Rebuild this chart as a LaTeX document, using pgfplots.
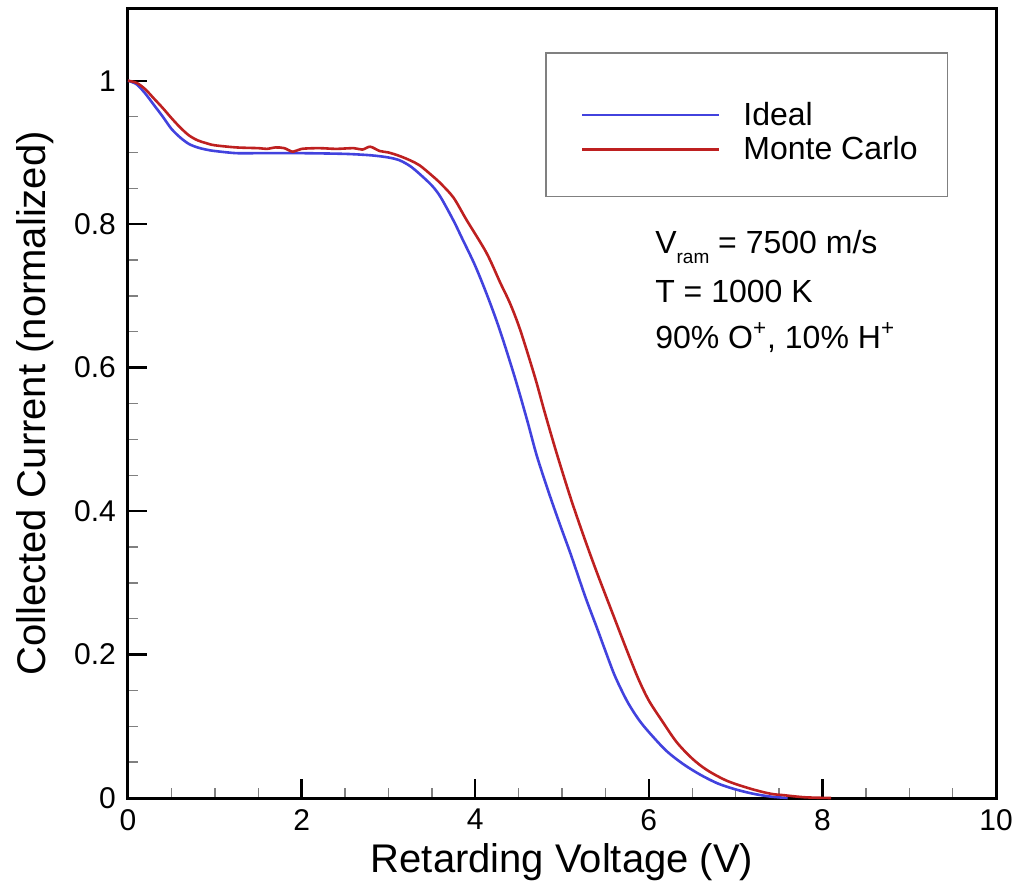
\documentclass[border=0pt]{standalone}
\usepackage{pgfplots}
\pgfplotsset{compat=1.18}
\usepackage{fontspec}
\setmainfont{Liberation Sans}
\definecolor{idealblue}{RGB}{66,66,222}
\definecolor{mcred}{RGB}{190,32,32}
\pgfplotsset{
  normimg/.style={legend image code/.code={\draw[##1,line width=1.3pt] (0pt,0pt) -- (68.5pt,0pt); \path (-4.5pt,0pt) (78pt,0pt);}},
  tallimg/.style={legend image code/.code={\draw[##1,line width=1.3pt] (0pt,0pt) -- (68.5pt,0pt); \path (-4.5pt,0pt) (78pt,15.5pt);}},
}
\begin{document}
\begin{tikzpicture}
\begin{axis}[
  name=ax,
  scale only axis,
  width=434pt, height=394.5pt,
  xmin=0, xmax=10, ymin=0, ymax=1.1,
  xtick={0,2,4,6,8,10},
  ytick={0,0.2,0.4,0.6,0.8,1},
  yticklabels={0,0.2,0.4,0.6,0.8,1},
  minor x tick num=3,
  minor y tick num=3,
  tick align=inside,
  xtick pos=bottom, ytick pos=left,
  major tick length=9.5pt,
  minor tick length=5pt,
  every major tick/.style={black, line width=1.2pt},
  every minor tick/.style={gray, line width=0.7pt},
  axis line style={line width=1.5pt},
  /pgf/number format/assume math mode=true,
  ticklabel style={font=\fontsize{15}{17}\selectfont},
  xticklabel style={yshift=-2pt},
  yticklabel style={xshift=-2.5pt},
  label style={font=\fontsize{20}{24}\selectfont},
  xlabel={Retarding Voltage (V)},
  ylabel={Collected Current (normalized)},
  xlabel style={at={(axis description cs:0.5,-0.081)}, anchor=center},
  ylabel style={at={(axis description cs:-0.107,0.5)}, anchor=center},
  legend style={at={(axis description cs:0.4804,0.9455)}, anchor=north west,
    draw=gray, line width=0.8pt, inner xsep=13pt, inner ysep=15pt,
    font=\fontsize{16}{19}\selectfont, row sep=0pt},
  legend cell align=left,
  normimg,
  clip=false,
]
\addplot[idealblue, line width=1.3pt, smooth, tallimg] coordinates {
(0,1.000) (0.1,0.995) (0.2,0.982) (0.3,0.966) (0.4,0.950) (0.5,0.933)
(0.6,0.921) (0.7,0.912) (0.8,0.907) (0.9,0.904) (1.0,0.902) (1.25,0.899)
(1.5,0.899) (2.0,0.899) (2.5,0.898) (2.8,0.896) (3.0,0.893) (3.13,0.889)
(3.25,0.881) (3.36,0.870) (3.5,0.854) (3.6,0.838) (3.75,0.805) (3.85,0.780)
(4.0,0.742) (4.15,0.697) (4.29,0.650) (4.46,0.585) (4.6,0.526) (4.71,0.477)
(4.85,0.425) (4.98,0.380) (5.1,0.340) (5.27,0.280) (5.4,0.238) (5.5,0.205)
(5.61,0.170) (5.75,0.135) (5.88,0.110) (6.0,0.092) (6.2,0.066) (6.4,0.047)
(6.6,0.032) (6.8,0.020) (7.0,0.012) (7.2,0.006) (7.4,0.002) (7.6,0.0)
};
\addlegendentry{Ideal}
\addplot[mcred, line width=1.3pt, smooth] coordinates {
(0,1.000) (0.1,0.997) (0.2,0.988) (0.3,0.975) (0.4,0.962) (0.5,0.948)
(0.6,0.935) (0.7,0.924) (0.8,0.917) (0.9,0.913) (1.0,0.910) (1.25,0.907)
(1.5,0.906) (1.6,0.905) (1.7,0.907) (1.8,0.906) (1.9,0.901) (2.0,0.905)
(2.2,0.906) (2.4,0.905) (2.6,0.906) (2.7,0.904) (2.79,0.908) (2.9,0.902)
(3.0,0.900) (3.13,0.895) (3.25,0.889) (3.36,0.882) (3.5,0.868) (3.6,0.857)
(3.75,0.837) (3.9,0.806) (4.13,0.760) (4.29,0.718) (4.40,0.690) (4.52,0.652)
(4.69,0.586) (4.80,0.538) (4.94,0.480) (5.1,0.418) (5.25,0.365) (5.4,0.315)
(5.6,0.252) (5.75,0.205) (5.88,0.166) (6.0,0.136) (6.15,0.108) (6.32,0.078)
(6.5,0.055) (6.67,0.039) (6.9,0.024) (7.17,0.013) (7.4,0.006) (7.55,0.004)
(7.8,0.001) (8.1,0.0)
};
\addlegendentry{Monte Carlo}
\node[anchor=base west, font=\fontsize{16}{19}\selectfont, inner sep=0pt] at (axis description cs:0.607,0.6907) {V\raisebox{-5pt}{\fontsize{9.5}{10}\selectfont ram} = 7500 m/s};
\node[anchor=base west, font=\fontsize{16}{19}\selectfont, inner sep=0pt] at (axis description cs:0.607,0.6286) {T = 1000 K};
\node[anchor=base west, font=\fontsize{16}{19}\selectfont, inner sep=0pt] at (axis description cs:0.607,0.5703) {90\% O\textsuperscript{+}, 10\% H\textsuperscript{+}};
\end{axis}
\path ([shift={(-64pt,-42.5pt)}]ax.south west) rectangle ([shift={(12.5pt,4.5pt)}]ax.north east);
\end{tikzpicture}
\end{document}
